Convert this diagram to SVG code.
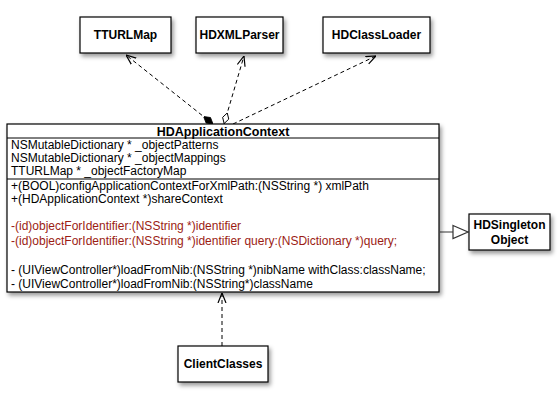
<svg xmlns="http://www.w3.org/2000/svg" width="559" height="404" viewBox="0 0 559 404">
<style>
.box{fill:#fff;stroke:#000;stroke-width:1.2;filter:url(#sh)}
.nm{font-family:"Liberation Sans",Arial,sans-serif;font-weight:bold;font-size:12px;text-anchor:middle;fill:#000}
.tx{font-family:"Liberation Sans",Arial,sans-serif;font-size:12px;fill:#000}
.red{fill:#9b1c14}
.dash{fill:none;stroke:#000;stroke-width:1;stroke-dasharray:4,3}
.sep{stroke:#000;stroke-width:1}
</style>
<defs>
<filter id="sh" x="-20%" y="-20%" width="150%" height="160%">
<feDropShadow dx="2" dy="3" stdDeviation="2" flood-color="#000" flood-opacity="0.4"/>
</filter>
<marker id="open" viewBox="0 0 10 10" refX="10" refY="5" markerWidth="10" markerHeight="10" markerUnits="userSpaceOnUse" orient="auto">
<path d="M0,1 L10,5 L0,9" fill="none" stroke="#000" stroke-width="1.2"/>
</marker>
<marker id="fdia" viewBox="0 0 12 8" refX="0" refY="4" markerWidth="12" markerHeight="8" markerUnits="userSpaceOnUse" orient="auto">
<path d="M0,4 L6,0.5 L12,4 L6,7.5 Z" fill="#000" stroke="#000" stroke-width="0.8"/>
</marker>
<marker id="odia" viewBox="0 0 12 8" refX="0" refY="4" markerWidth="12" markerHeight="8" markerUnits="userSpaceOnUse" orient="auto">
<path d="M0.5,4 L6,0.8 L11.5,4 L6,7.2 Z" fill="#fff" stroke="#000" stroke-width="0.9"/>
</marker>
</defs>
<rect width="559" height="404" fill="#fff"/>

<g id="connectors">
<path class="dash" d="M213,124 L126,55" marker-start="url(#fdia)" marker-end="url(#open)"/>
<path class="dash" d="M224,124 L244,56" marker-start="url(#odia)" marker-end="url(#open)"/>
<path class="dash" d="M233,124 L376,56" marker-end="url(#open)"/>
<path class="dash" d="M222,346 L222,293" marker-end="url(#open)"/>
<line x1="440" y1="232" x2="453" y2="232" stroke="#555" stroke-width="1.2"/>
<path d="M453,225.5 L468,232 L453,238.5 Z" fill="#fff" stroke="#333" stroke-width="1.2"/>
</g>

<g id="TTURLMap">
<rect class="box" x="80" y="17" width="91" height="36"/>
<text class="nm" x="125.5" y="39">TTURLMap</text>
</g>
<g id="HDXMLParser">
<rect class="box" x="196" y="17" width="87" height="36"/>
<text class="nm" x="239.5" y="39">HDXMLParser</text>
</g>
<g id="HDClassLoader">
<rect class="box" x="323" y="17" width="107" height="36"/>
<text class="nm" x="376.5" y="39">HDClassLoader</text>
</g>

<g id="HDApplicationContext">
<rect class="box" x="7" y="124" width="432" height="168"/>
<text class="nm" x="223" y="135.5" style="font-size:12.5px">HDApplicationContext</text>
<line class="sep" x1="7" y1="138" x2="439" y2="138"/>
<text class="tx" x="11" y="149">NSMutableDictionary * _objectPatterns</text>
<text class="tx" x="11" y="162">NSMutableDictionary * _objectMappings</text>
<text class="tx" x="11" y="175">TTURLMap * _objectFactoryMap</text>
<line class="sep" x1="7" y1="179" x2="439" y2="179"/>
<text class="tx" x="11" y="190">+(BOOL)configApplicationContextForXmlPath:(NSString *) xmlPath</text>
<text class="tx" x="11" y="203">+(HDApplicationContext *)shareContext</text>
<text class="tx red" x="11" y="230">-(id)objectForIdentifier:(NSString *)identifier</text>
<text class="tx red" x="11" y="245">-(id)objectForIdentifier:(NSString *)identifier query:(NSDictionary *)query;</text>
<text class="tx" x="11" y="274">- (UIViewController*)loadFromNib:(NSString *)nibName withClass:className;</text>
<text class="tx" x="11" y="288">- (UIViewController*)loadFromNib:(NSString*)className</text>
</g>

<g id="HDSingletonObject">
<rect class="box" x="469" y="214" width="81" height="36"/>
<text class="nm" x="509.5" y="229">HDSingleton</text>
<text class="nm" x="509.5" y="244">Object</text>
</g>

<g id="ClientClasses">
<rect class="box" x="178" y="346" width="90" height="36"/>
<text class="nm" x="223" y="368">ClientClasses</text>
</g>
</svg>
